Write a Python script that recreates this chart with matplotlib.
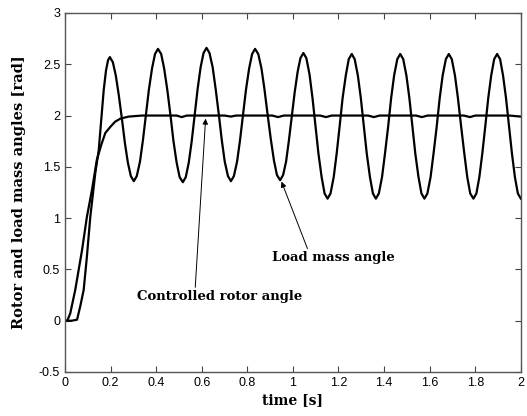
import matplotlib
matplotlib.use('Agg')
import matplotlib.pyplot as plt

# Load mass angle (oscillating curve)
load_t = [0.0, 0.03, 0.053, 0.067, 0.082, 0.096, 0.111, 0.133, 0.148, 0.160, 0.170, 0.180, 0.189, 0.197,
          0.210, 0.223, 0.236, 0.250, 0.263, 0.276, 0.289, 0.302,
          0.315, 0.329, 0.342, 0.355, 0.368, 0.382, 0.395, 0.408,
          0.422, 0.435, 0.449, 0.463, 0.476, 0.490, 0.503, 0.517,
          0.530, 0.543, 0.556, 0.569, 0.582, 0.595, 0.608, 0.621,
          0.634, 0.648, 0.661, 0.675, 0.688, 0.701, 0.715, 0.728,
          0.741, 0.755, 0.768, 0.781, 0.794, 0.808, 0.821, 0.834,
          0.848, 0.862, 0.875, 0.889, 0.903, 0.917, 0.930, 0.944,
          0.957, 0.970, 0.982, 0.995, 1.008, 1.021, 1.033, 1.046,
          1.059, 1.073, 1.086, 1.099, 1.112, 1.126, 1.139, 1.152,
          1.165, 1.179, 1.192, 1.205, 1.218, 1.232, 1.245, 1.258,
          1.271, 1.285, 1.298, 1.311, 1.324, 1.338, 1.351, 1.364,
          1.377, 1.391, 1.404, 1.418, 1.431, 1.444, 1.458, 1.471,
          1.484, 1.498, 1.511, 1.524, 1.537, 1.551, 1.564, 1.577,
          1.590, 1.604, 1.617, 1.631, 1.644, 1.657, 1.671, 1.684,
          1.697, 1.711, 1.724, 1.738, 1.752, 1.765, 1.778, 1.792,
          1.805, 1.818, 1.831, 1.844, 1.857, 1.870, 1.883, 1.896,
          1.909, 1.922, 1.935, 1.948, 1.961, 1.974, 1.987, 2.0]
load_v = [0.0, 0.0, 0.01, 0.14, 0.30, 0.62, 1.01, 1.44, 1.66, 1.98, 2.25, 2.44, 2.54, 2.57,
          2.52, 2.39, 2.20, 1.965, 1.73, 1.54, 1.41, 1.36,
          1.41, 1.55, 1.76, 2.005, 2.25, 2.46, 2.60, 2.65,
          2.60, 2.46, 2.25, 2.0, 1.75, 1.54, 1.40, 1.35,
          1.40, 1.54, 1.75, 2.005, 2.26, 2.47, 2.61, 2.66,
          2.61, 2.47, 2.26, 2.01, 1.76, 1.55, 1.41, 1.36,
          1.41, 1.55, 1.76, 2.005, 2.25, 2.46, 2.60, 2.65,
          2.60, 2.46, 2.26, 2.01, 1.77, 1.56, 1.42, 1.37,
          1.42, 1.55, 1.75, 1.99, 2.23, 2.43, 2.56, 2.61,
          2.56, 2.40, 2.17, 1.90, 1.63, 1.40, 1.24, 1.19,
          1.24, 1.40, 1.63, 1.895, 2.17, 2.39, 2.55, 2.60,
          2.55, 2.39, 2.17, 1.895, 1.63, 1.40, 1.24, 1.19,
          1.24, 1.40, 1.63, 1.895, 2.17, 2.39, 2.55, 2.60,
          2.55, 2.39, 2.17, 1.895, 1.63, 1.40, 1.24, 1.19,
          1.24, 1.40, 1.63, 1.895, 2.17, 2.39, 2.55, 2.60,
          2.55, 2.39, 2.17, 1.895, 1.63, 1.40, 1.24, 1.19,
          1.24, 1.40, 1.63, 1.895, 2.17, 2.39, 2.55, 2.60,
          2.55, 2.39, 2.17, 1.895, 1.63, 1.40, 1.24, 1.19]

# Controlled rotor angle (settles at 2 rad)
rotor_t = [0.0, 0.01, 0.023, 0.045, 0.075, 0.096, 0.118, 0.140, 0.160, 0.177, 0.199, 0.22,
           0.243, 0.28, 0.338, 0.49, 0.512, 0.535, 0.70, 0.728, 0.75, 0.91, 0.935, 0.96,
           1.12, 1.145, 1.17, 1.33, 1.355, 1.38, 1.54, 1.566, 1.59, 1.75, 1.777, 1.80, 1.95, 2.0]
rotor_v = [0.0, 0.0, 0.07, 0.30, 0.69, 1.01, 1.27, 1.57, 1.72, 1.83, 1.89, 1.94,
           1.97, 1.99, 2.0, 2.0, 1.985, 2.0, 2.0, 1.99, 2.0, 2.0, 1.985, 2.0,
           2.0, 1.985, 2.0, 2.0, 1.985, 2.0, 2.0, 1.985, 2.0, 2.0, 1.985, 2.0, 2.0, 1.99]

xticks = [0, 0.2, 0.4, 0.6, 0.8, 1, 1.2, 1.4, 1.6, 1.8, 2]
yticks = [-0.5, 0, 0.5, 1, 1.5, 2, 2.5, 3]

fig = plt.figure(figsize=(5.27, 4.16), dpi=100)
ax = fig.add_axes([0.1233, 0.1058, 0.865, 0.863])

ax.plot(rotor_t, rotor_v, color='black', lw=1.6)
ax.plot(load_t, load_v, color='black', lw=1.6)

ax.set_xlim(0, 2)
ax.set_ylim(-0.5, 3)
ax.set_xticks(xticks)
ax.set_xticklabels(['0', '0.2', '0.4', '0.6', '0.8', '1', '1.2', '1.4', '1.6', '1.8', '2'])
ax.set_yticks(yticks)
ax.set_yticklabels(['-0.5', '0', '0.5', '1', '1.5', '2', '2.5', '3'])
ax.tick_params(direction='in', length=4, top=True, right=True, colors='#444444',
               labelcolor='black', labelsize=9, width=0.8)
for lab in ax.get_xticklabels() + ax.get_yticklabels():
    lab.set_family('Liberation Sans')
for sp in ax.spines.values():
    sp.set_color('#555555')
    sp.set_linewidth(1.0)

ax.set_xlabel('time [s]', family='DejaVu Serif', fontweight='bold', fontsize=10, labelpad=3)
ax.set_ylabel('Rotor and load mass angles [rad]', family='DejaVu Serif',
              fontweight='bold', fontsize=10.5, labelpad=9)

ax.annotate('Load mass angle', xy=(0.950, 1.356), xytext=(0.907, 0.612),
            family='DejaVu Serif', fontweight='bold', fontsize=9.5, va='center', ha='left',
            arrowprops=dict(arrowstyle='-|>', color='black', lw=0.7, mutation_scale=8,
                            shrinkA=0, shrinkB=0, relpos=(0.3, 1.0)))
ax.annotate('Controlled rotor angle', xy=(0.617, 1.97), xytext=(0.317, 0.235),
            family='DejaVu Serif', fontweight='bold', fontsize=9.5, va='center', ha='left',
            arrowprops=dict(arrowstyle='-|>', color='black', lw=0.7, mutation_scale=8,
                            shrinkA=0, shrinkB=0, relpos=(0.35, 1.0)))

fig.savefig('out.png', dpi=100)
